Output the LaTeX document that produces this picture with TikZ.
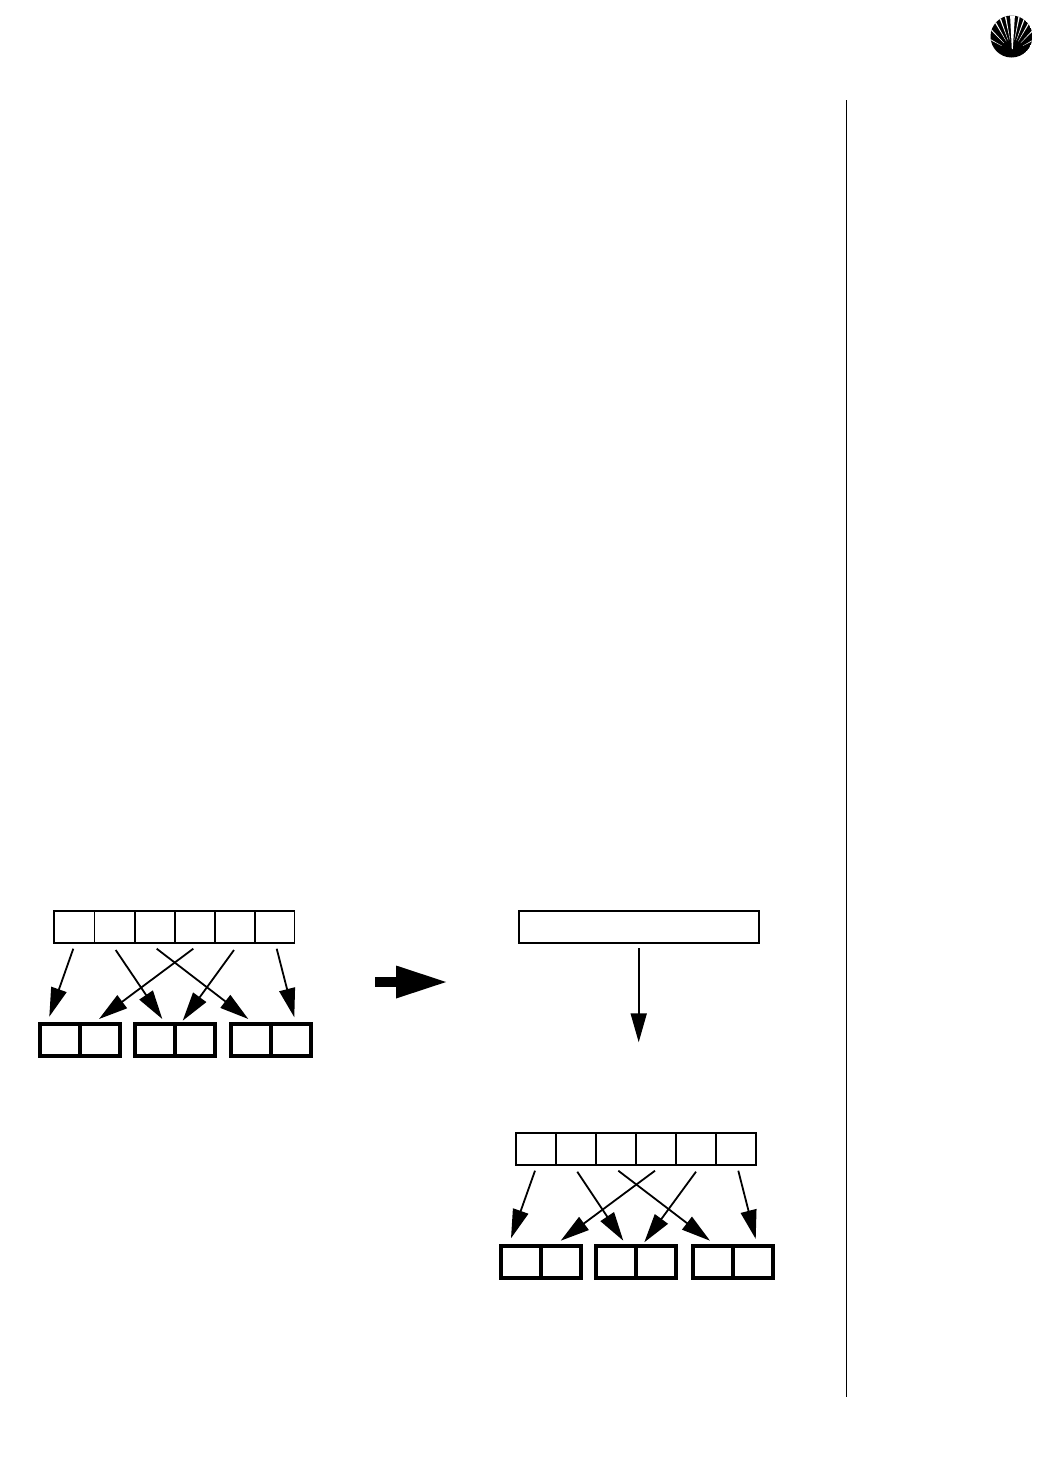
\documentclass[tikz,border=0pt]{standalone}
\usetikzlibrary{arrows.meta}
\tikzset{
  cell/.style={draw=black,line width=1.5pt,inner sep=0pt,outer sep=0pt,minimum width=40.1pt,minimum height=32pt},
  bar/.style={draw=black,line width=1.7pt,inner sep=0pt,outer sep=0pt,minimum width=240pt,minimum height=32pt},
  slot/.style={draw=black,line width=4pt,inner sep=0pt,outer sep=0pt,minimum width=40pt,minimum height=31.6pt},
  link/.style={line width=1.8pt,draw=black,-{Triangle[length=29pt,width=16pt]}},
  bigarrow/.style={line width=9.4pt,draw=black,-{Triangle[length=52pt,width=30pt]}}
}
\begin{document}
\begin{tikzpicture}[x=1pt,y=-1pt]
\useasboundingbox (0,0) rectangle (1044,1476);
\fill[white] (0,0) rectangle (1044,1476);
% side rule
\coordinate (ruleA) at (846.5,100);
\coordinate (ruleB) at (846.5,1397);
\draw[line width=1pt] (ruleA) -- (ruleB);
% logo
\begin{scope}
\clip (1011.5,36.5) circle (21);
\fill[black] (1011.5,36.5) circle (21);
\foreach \a in {-61,-44,-30,-20,-11,11,20,30,44,61}{
  \fill[white] ({1012.3+12*sin(\a-0.5)},{51.7-12*cos(\a-0.5)}) --
               ({1012.3+36*sin(\a-1.1)},{51.7-36*cos(\a-1.1)}) --
               ({1012.3+36*sin(\a+1.1)},{51.7-36*cos(\a+1.1)}) --
               ({1012.3+12*sin(\a+0.5)},{51.7-12*cos(\a+0.5)}) -- cycle;
}
\fill[white] (1011.8,49) -- (1010,14) -- (1015,14) -- (1012.8,49) -- cycle;
\end{scope}
% left upper row
\foreach \n/\x in {1/74.2,2/114.6,3/154.8,4/194.5,5/234.8,6/274.6}{
  \node[cell] (a\n) at (\x,927) {};
}
% left slots
\foreach \n/\x in {1/60,2/100,3/155.2,4/195,5/251,6/291}{
  \node[slot] (b\n) at (\x,1039.7) {};
}
\foreach \n/\p in {1/{73.3,948.7},2/{115.7,950},3/{156.7,948.7},4/{193.3,948.7},5/{234,950},6/{276.7,948.7}}{
  \coordinate (as\n) at (\p);
}
\foreach \n/\p in {1/{49.3,1016.7},2/{162.3,1019},3/{248.3,1019},4/{99,1019},5/{182.7,1020.7},6/{294.3,1017.3}}{
  \coordinate (at\n) at (\p);
}
\foreach \n in {1,...,6}{ \draw[link] (as\n) -- (at\n); }
% big arrow
\coordinate (bigA) at (375,982);
\coordinate (bigB) at (448,982);
\draw[bigarrow] (bigA) -- (bigB);
% right top bar
\node[bar] (top) at (639.3,927) {};
\coordinate (topS) at (638.7,948.3);
\coordinate (topT) at (638.7,1042.3);
\draw[link] (topS) -- (topT);
% right lower row
\foreach \n/\x in {1/535.8,2/576,3/616,4/656,5/696,6/736}{
  \node[cell] (c\n) at (\x,1148.8) {};
}
% right slots
\foreach \n/\x in {1/521,2/561,3/616,4/656,5/713,6/753}{
  \node[slot] (d\n) at (\x,1262) {};
}
\foreach \n/\p in {1/{535,1170.7},2/{577.3,1171.7},3/{618.3,1170.7},4/{655,1170.7},5/{696,1171.7},6/{738.3,1170.7}}{
  \coordinate (cs\n) at (\p);
}
\foreach \n/\p in {1/{511,1238.3},2/{623.3,1240.7},3/{710,1240.7},4/{560.7,1240.7},5/{644.3,1242.3},6/{755.7,1239}}{
  \coordinate (ct\n) at (\p);
}
\foreach \n in {1,...,6}{ \draw[link] (cs\n) -- (ct\n); }
\end{tikzpicture}
\end{document}
